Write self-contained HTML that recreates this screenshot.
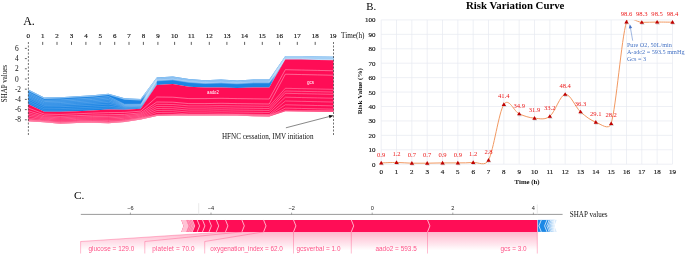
<!DOCTYPE html>
<html><head><meta charset="utf-8">
<style>
html,body{margin:0;padding:0;background:#fff;}
body{width:685px;height:255px;overflow:hidden;}
svg{display:block;}
text{font-family:"Liberation Serif",serif;}
text.s{font-family:"Liberation Sans",sans-serif;}
</style></head><body>
<svg width="685" height="255" viewBox="0 0 685 255">
<defs>
<filter id="sh" x="-50%" y="-50%" width="200%" height="200%"><feGaussianBlur stdDeviation="0.5"/></filter>
<linearGradient id="pg" x1="0" y1="231.9" x2="0" y2="250.5" gradientUnits="userSpaceOnUse">
<stop offset="0" stop-color="#FF0D57" stop-opacity="0.3"/>
<stop offset="1" stop-color="#FF0D57" stop-opacity="0"/>
</linearGradient>
<linearGradient id="bfade" x1="0" x2="1" y1="0" y2="0">
<stop offset="0" stop-color="#fff" stop-opacity="0"/>
<stop offset="1" stop-color="#fff" stop-opacity="0.85"/>
</linearGradient>
<filter id="gb" x="0" y="0" width="685" height="255" filterUnits="userSpaceOnUse"><feGaussianBlur stdDeviation="0.3"/></filter>
</defs>
<g filter="url(#gb)" fill="#111">
<rect x="0" y="0" width="685" height="255" fill="#fff"/>
<!-- Panel A -->
<text x="23.2" y="24.9" font-size="12" fill="#000">A.</text>
<text x="28.2" y="38.4" text-anchor="middle" font-size="7.0" stroke="#111" stroke-width="0.15">0</text>
<text x="42.7" y="38.4" text-anchor="middle" font-size="7.0" stroke="#111" stroke-width="0.15">1</text>
<line x1="42.7" y1="41.9" x2="42.7" y2="44.9" stroke="#1a1a1a" stroke-width="0.7"/>
<text x="57" y="38.4" text-anchor="middle" font-size="7.0" stroke="#111" stroke-width="0.15">2</text>
<line x1="57" y1="41.9" x2="57" y2="44.9" stroke="#1a1a1a" stroke-width="0.7"/>
<text x="71.5" y="38.4" text-anchor="middle" font-size="7.0" stroke="#111" stroke-width="0.15">3</text>
<line x1="71.5" y1="41.9" x2="71.5" y2="44.9" stroke="#1a1a1a" stroke-width="0.7"/>
<text x="85.9" y="38.4" text-anchor="middle" font-size="7.0" stroke="#111" stroke-width="0.15">4</text>
<line x1="85.9" y1="41.9" x2="85.9" y2="44.9" stroke="#1a1a1a" stroke-width="0.7"/>
<text x="100.2" y="38.4" text-anchor="middle" font-size="7.0" stroke="#111" stroke-width="0.15">5</text>
<line x1="100.2" y1="41.9" x2="100.2" y2="44.9" stroke="#1a1a1a" stroke-width="0.7"/>
<text x="114.7" y="38.4" text-anchor="middle" font-size="7.0" stroke="#111" stroke-width="0.15">6</text>
<line x1="114.7" y1="41.9" x2="114.7" y2="44.9" stroke="#1a1a1a" stroke-width="0.7"/>
<text x="129" y="38.4" text-anchor="middle" font-size="7.0" stroke="#111" stroke-width="0.15">7</text>
<line x1="129" y1="41.9" x2="129" y2="44.9" stroke="#1a1a1a" stroke-width="0.7"/>
<text x="143.4" y="38.4" text-anchor="middle" font-size="7.0" stroke="#111" stroke-width="0.15">8</text>
<line x1="143.4" y1="41.9" x2="143.4" y2="44.9" stroke="#1a1a1a" stroke-width="0.7"/>
<text x="157.9" y="38.4" text-anchor="middle" font-size="7.0" stroke="#111" stroke-width="0.15">9</text>
<line x1="157.9" y1="41.9" x2="157.9" y2="44.9" stroke="#1a1a1a" stroke-width="0.7"/>
<text x="174.6" y="38.4" text-anchor="middle" font-size="7.0" stroke="#111" stroke-width="0.15">10</text>
<line x1="174.6" y1="41.9" x2="174.6" y2="44.9" stroke="#1a1a1a" stroke-width="0.7"/>
<text x="191.3" y="38.4" text-anchor="middle" font-size="7.0" stroke="#111" stroke-width="0.15">11</text>
<line x1="191.3" y1="41.9" x2="191.3" y2="44.9" stroke="#1a1a1a" stroke-width="0.7"/>
<text x="209.3" y="38.4" text-anchor="middle" font-size="7.0" stroke="#111" stroke-width="0.15">12</text>
<line x1="209.3" y1="41.9" x2="209.3" y2="44.9" stroke="#1a1a1a" stroke-width="0.7"/>
<text x="226.9" y="38.4" text-anchor="middle" font-size="7.0" stroke="#111" stroke-width="0.15">13</text>
<line x1="226.9" y1="41.9" x2="226.9" y2="44.9" stroke="#1a1a1a" stroke-width="0.7"/>
<text x="244.6" y="38.4" text-anchor="middle" font-size="7.0" stroke="#111" stroke-width="0.15">14</text>
<line x1="244.6" y1="41.9" x2="244.6" y2="44.9" stroke="#1a1a1a" stroke-width="0.7"/>
<text x="262.3" y="38.4" text-anchor="middle" font-size="7.0" stroke="#111" stroke-width="0.15">15</text>
<line x1="262.3" y1="41.9" x2="262.3" y2="44.9" stroke="#1a1a1a" stroke-width="0.7"/>
<text x="279.6" y="38.4" text-anchor="middle" font-size="7.0" stroke="#111" stroke-width="0.15">16</text>
<line x1="279.6" y1="41.9" x2="279.6" y2="44.9" stroke="#1a1a1a" stroke-width="0.7"/>
<text x="297.3" y="38.4" text-anchor="middle" font-size="7.0" stroke="#111" stroke-width="0.15">17</text>
<line x1="297.3" y1="41.9" x2="297.3" y2="44.9" stroke="#1a1a1a" stroke-width="0.7"/>
<text x="315.2" y="38.4" text-anchor="middle" font-size="7.0" stroke="#111" stroke-width="0.15">18</text>
<line x1="315.2" y1="41.9" x2="315.2" y2="44.9" stroke="#1a1a1a" stroke-width="0.7"/>
<text x="333.1" y="38.4" text-anchor="middle" font-size="7.0" stroke="#111" stroke-width="0.15">19</text>
<text x="341.1" y="38.3" font-size="7.2">Time(h)</text>
<text x="14.9" y="50.9" font-size="7.4">6</text>
<line x1="24.9" y1="48.4" x2="26.8" y2="48.4" stroke="#222" stroke-width="0.7"/>
<text x="14.9" y="61.1" font-size="7.4">4</text>
<line x1="24.9" y1="58.6" x2="26.8" y2="58.6" stroke="#222" stroke-width="0.7"/>
<text x="14.9" y="71.3" font-size="7.4">2</text>
<line x1="24.9" y1="68.8" x2="26.8" y2="68.8" stroke="#222" stroke-width="0.7"/>
<text x="14.9" y="81.5" font-size="7.4">0</text>
<line x1="24.9" y1="79" x2="26.8" y2="79" stroke="#222" stroke-width="0.7"/>
<text x="14.9" y="91.7" font-size="7.4">-2</text>
<line x1="24.9" y1="89.2" x2="26.8" y2="89.2" stroke="#222" stroke-width="0.7"/>
<text x="14.9" y="101.9" font-size="7.4">-4</text>
<line x1="24.9" y1="99.4" x2="26.8" y2="99.4" stroke="#222" stroke-width="0.7"/>
<text x="14.9" y="112.1" font-size="7.4">-6</text>
<line x1="24.9" y1="109.6" x2="26.8" y2="109.6" stroke="#222" stroke-width="0.7"/>
<text x="14.9" y="122.3" font-size="7.4">-8</text>
<line x1="24.9" y1="119.8" x2="26.8" y2="119.8" stroke="#222" stroke-width="0.7"/>
<text transform="translate(6.8,83.6) rotate(-90)" x="-18.6" font-size="7.8" textLength="37.2" lengthAdjust="spacingAndGlyphs">SHAP values</text>
<polygon points="28.2,89.6 44.27,97.6 60.34,97.2 76.41,96.2 92.48,95.3 108.55,93.7 124.62,98.3 140.69,99 156.76,77.6 172.83,76.6 188.9,79 204.97,80.3 221.04,79.6 237.11,80.5 253.18,79.4 269.25,79.4 285.32,56 301.39,56 317.46,56.6 333.53,56.8 333.53,60.3 317.46,60.1 301.39,59.5 285.32,59.5 269.25,87.6 253.18,87.6 237.11,88 221.04,87.4 204.97,87.4 188.9,86.8 172.83,83.9 156.76,85 140.69,108.8 124.62,109.7 108.55,109.6 92.48,110.4 76.41,111.2 60.34,111.8 44.27,111.8 28.2,104.2" fill="#1B84E3"/>
<polygon points="28.2,89.6 44.27,97.6 60.34,97.2 76.41,96.2 92.48,95.3 108.55,93.7 124.62,98.3 140.69,99 156.76,77.6 172.83,76.6 188.9,79 204.97,80.3 221.04,79.6 237.11,80.5 253.18,79.4 269.25,79.4 285.32,56 301.39,56 317.46,56.6 333.53,56.8 333.53,59.6 317.46,59.4 301.39,58.8 285.32,58.8 269.25,81.1 253.18,81.1 237.11,82.2 221.04,81.3 204.97,82 188.9,80.7 172.83,78.3 156.76,79.3 140.69,100.4 124.62,99.7 108.55,95.1 92.48,96.7 76.41,97.6 60.34,98.6 44.27,99 28.2,91" fill="#a5cff5" opacity="0.8"/>
<polygon points="285.32,56 301.39,56 317.46,56.6 333.53,56.8 333.53,59.77 317.46,59.58 301.39,58.98 285.32,58.98" fill="#b8daf8" opacity="0.55"/>
<linearGradient id="dg1" gradientUnits="userSpaceOnUse" x1="141.69" y1="0" x2="146.69" y2="0"><stop offset="0" stop-color="#b9dbf7" stop-opacity="0"/><stop offset="1" stop-color="#b9dbf7" stop-opacity="0.75"/></linearGradient>
<polygon points="140.69,99 156.76,77.6 156.76,85 140.69,108.8" fill="url(#dg1)"/>
<linearGradient id="dg2" gradientUnits="userSpaceOnUse" x1="270.25" y1="0" x2="275.25" y2="0"><stop offset="0" stop-color="#b9dbf7" stop-opacity="0"/><stop offset="1" stop-color="#b9dbf7" stop-opacity="0.75"/></linearGradient>
<polygon points="269.25,79.4 285.32,56 285.32,59.5 269.25,87.6" fill="url(#dg2)"/>
<polyline points="28.2,92.32 44.27,100.28 60.34,99.92 76.41,98.96 92.48,98.07 108.55,96.55 124.62,104.3 140.69,104.26 156.76,79.5 172.83,78.5 188.9,80.91 204.97,82.19 221.04,81.51 237.11,82.4 253.18,81.33 269.25,81.33 285.32,58.87 301.39,58.87 317.46,59.47 333.53,59.67" fill="none" stroke="#D1E6FA" stroke-width="0.45" opacity="0.75"/>
<polyline points="28.2,93.64 44.27,101.56 60.34,101.24 76.41,100.32 92.48,99.44 108.55,98 124.62,104.9 140.69,104.77 156.76,79.7 172.83,78.69 188.9,81.13 204.97,82.38 221.04,81.73 237.11,82.61 253.18,81.56 269.25,81.56 285.32,58.94 301.39,58.94 317.46,59.54 333.53,59.74" fill="none" stroke="#D1E6FA" stroke-width="0.45" opacity="0.7"/>
<polyline points="28.2,94.96 44.27,102.84 60.34,102.56 76.41,101.68 92.48,100.81 108.55,99.45 124.62,105.5 140.69,105.27 156.76,79.9 172.83,78.89 188.9,81.34 204.97,82.57 221.04,81.94 237.11,82.81 253.18,81.78 269.25,81.78 285.32,59.01 301.39,59.01 317.46,59.61 333.53,59.81" fill="none" stroke="#D1E6FA" stroke-width="0.45" opacity="0.65"/>
<polyline points="28.2,96.28 44.27,104.12 60.34,103.88 76.41,103.04 92.48,102.18 108.55,100.9 124.62,106.1 140.69,105.78 156.76,80.1 172.83,79.08 188.9,81.55 204.97,82.76 221.04,82.15 237.11,83.01 253.18,82.01 269.25,82.01 285.32,59.08 301.39,59.08 317.46,59.68 333.53,59.88" fill="none" stroke="#D1E6FA" stroke-width="0.45" opacity="0.6"/>
<polyline points="28.2,97.6 44.27,105.4 60.34,105.2 76.41,104.4 92.48,103.55 108.55,102.35 124.62,106.7 140.69,106.28 156.76,80.3 172.83,79.28 188.9,81.77 204.97,82.95 221.04,82.37 237.11,83.22 253.18,82.24 269.25,82.24 285.32,59.15 301.39,59.15 317.46,59.75 333.53,59.95" fill="none" stroke="#D1E6FA" stroke-width="0.45" opacity="0.55"/>
<polyline points="28.2,99.18 44.27,106.94 60.34,106.78 76.41,106.03 92.48,105.19 108.55,104.09 124.62,107.42 140.69,106.88 156.76,80.54 172.83,79.52 188.9,82.02 204.97,83.17 221.04,82.62 237.11,83.46 253.18,82.51 269.25,82.51 285.32,59.23 301.39,59.23 317.46,59.83 333.53,60.03" fill="none" stroke="#D1E6FA" stroke-width="0.45" opacity="0.5"/>
<polyline points="28.2,101.03 44.27,108.73 60.34,108.63 76.41,107.94 92.48,107.11 108.55,106.12 124.62,108.26 140.69,107.59 156.76,80.82 172.83,79.79 188.9,82.32 204.97,83.44 221.04,82.92 237.11,83.74 253.18,82.83 269.25,82.83 285.32,59.33 301.39,59.33 317.46,59.93 333.53,60.13" fill="none" stroke="#D1E6FA" stroke-width="0.45" opacity="0.45"/>
<polyline points="28.2,102.62 44.27,110.26 60.34,110.22 76.41,109.57 92.48,108.76 108.55,107.86 124.62,108.98 140.69,108.2 156.76,81.06 172.83,80.02 188.9,82.58 204.97,83.66 221.04,83.18 237.11,83.99 253.18,83.1 269.25,83.1 285.32,59.42 301.39,59.42 317.46,60.02 333.53,60.22" fill="none" stroke="#D1E6FA" stroke-width="0.45" opacity="0.35"/>
<polygon points="28.2,104.2 44.27,111.8 60.34,111.8 76.41,111.2 92.48,110.4 108.55,109.6 124.62,109.7 140.69,108.8 156.76,85 172.83,83.9 188.9,86.8 204.97,87.4 221.04,87.4 237.11,88 253.18,87.6 269.25,87.6 285.32,59.5 301.39,59.5 317.46,60.1 333.53,60.3 333.53,111.9 317.46,111.7 301.39,111.5 285.32,111.3 269.25,116.4 253.18,116.2 237.11,115.5 221.04,115.6 204.97,115.6 188.9,115.6 172.83,115.6 156.76,115.9 140.69,119.4 124.62,122 108.55,123.3 92.48,122.7 76.41,123 60.34,123.8 44.27,122.3 28.2,121.2" fill="#FF0D57"/>
<polyline points="28.2,107.94 44.27,114.11 60.34,114.44 76.41,113.8 92.48,113.11 108.55,112.61 124.62,112.41 140.69,111.13 156.76,97 172.83,97.2 188.9,98.6 204.97,98.6 221.04,98.3 237.11,98.6 253.18,98.8 269.25,99 285.32,69.7 301.39,70.05 317.46,70.4 333.53,70.75" fill="none" stroke="#FFC3D5" stroke-width="0.5" opacity="0.95"/>
<polyline points="28.2,110.66 44.27,115.79 60.34,116.36 76.41,115.68 92.48,115.07 108.55,114.81 124.62,114.37 140.69,112.83 156.76,102 172.83,102.2 188.9,103.6 204.97,103.6 221.04,103.3 237.11,103.6 253.18,103.8 269.25,104 285.32,74.2 301.39,74.55 317.46,74.9 333.53,75.25" fill="none" stroke="#FFC3D5" stroke-width="0.5" opacity="0.95"/>
<polyline points="28.2,112.7 44.27,117.05 60.34,117.8 76.41,117.1 92.48,116.55 108.55,116.45 124.62,115.85 140.69,114.1 156.76,104.3 172.83,104.5 188.9,105.9 204.97,105.9 221.04,105.6 237.11,105.9 253.18,106.1 269.25,106.3 285.32,88.3 301.39,88.65 317.46,89 333.53,89.35" fill="none" stroke="#FFC3D5" stroke-width="0.5" opacity="0.8"/>
<polyline points="28.2,114.4 44.27,118.1 60.34,119 76.41,118.28 92.48,117.78 108.55,117.82 124.62,117.08 140.69,115.16 156.76,106.5 172.83,106.7 188.9,108.1 204.97,108.1 221.04,107.8 237.11,108.1 253.18,108.3 269.25,108.5 285.32,91 301.39,91.35 317.46,91.7 333.53,92.05" fill="none" stroke="#FFC3D5" stroke-width="0.5" opacity="0.8"/>
<polyline points="28.2,116.1 44.27,119.15 60.34,120.2 76.41,119.46 92.48,119.01 108.55,119.19 124.62,118.31 140.69,116.22 156.76,108.5 172.83,108.7 188.9,110.1 204.97,110.1 221.04,109.8 237.11,110.1 253.18,110.3 269.25,110.5 285.32,93.3 301.39,93.65 317.46,94 333.53,94.35" fill="none" stroke="#FFC3D5" stroke-width="0.5" opacity="0.8"/>
<polyline points="28.2,117.8 44.27,120.2 60.34,121.4 76.41,120.64 92.48,120.24 108.55,120.56 124.62,119.54 140.69,117.28 156.76,110.5 172.83,110.7 188.9,112.1 204.97,112.1 221.04,111.8 237.11,112.1 253.18,112.3 269.25,112.5 285.32,97.2 301.39,97.55 317.46,97.9 333.53,98.25" fill="none" stroke="#FFC3D5" stroke-width="0.5" opacity="0.8"/>
<polyline points="28.2,119.16 44.27,121.04 60.34,122.36 76.41,121.58 92.48,121.22 108.55,121.66 124.62,120.52 140.69,118.13 156.76,112.5 172.83,112.7 188.9,114.1 204.97,114.1 221.04,113.8 237.11,114.1 253.18,114.3 269.25,114.5 285.32,101 301.39,101.35 317.46,101.7 333.53,102.05" fill="none" stroke="#FFC3D5" stroke-width="0.5" opacity="0.8"/>
<polyline points="28.2,120.18 44.27,121.67 60.34,123.08 76.41,122.29 92.48,121.96 108.55,122.48 124.62,121.26 140.69,118.76 156.76,114.9 172.83,114.6 188.9,114.6 204.97,114.6 221.04,114.6 237.11,114.5 253.18,115.2 269.25,115.4 285.32,104.8 301.39,105.15 317.46,105.5 333.53,105.85" fill="none" stroke="#FFC3D5" stroke-width="0.5" opacity="0.8"/>
<polyline points="28.2,120.78 44.27,122.04 60.34,123.5 76.41,122.7 92.48,122.39 108.55,122.96 124.62,121.69 140.69,119.14 156.76,115.5 172.83,115.2 188.9,115.2 204.97,115.2 221.04,115.2 237.11,115.1 253.18,115.8 269.25,116 285.32,108.1 301.39,108.45 317.46,108.8 333.53,109.15" fill="none" stroke="#FFC3D5" stroke-width="0.5" opacity="0.8"/>
<polygon points="28.2,119.6 44.27,120.7 60.34,122.2 76.41,121.4 92.48,121.1 108.55,121.7 124.62,120.4 140.69,117.8 156.76,114.3 172.83,114 188.9,114 204.97,114 221.04,114 237.11,113.9 253.18,114.6 269.25,114.8 285.32,109.7 301.39,109.9 317.46,110.1 333.53,110.3 333.53,111.9 317.46,111.7 301.39,111.5 285.32,111.3 269.25,116.4 253.18,116.2 237.11,115.5 221.04,115.6 204.97,115.6 188.9,115.6 172.83,115.6 156.76,115.9 140.69,119.4 124.62,122 108.55,123.3 92.48,122.7 76.41,123 60.34,123.8 44.27,122.3 28.2,121.2" fill="#ff7fa3" opacity="0.6"/>
<line x1="28.4" y1="42" x2="28.4" y2="136.5" stroke="#444" stroke-width="0.75" stroke-dasharray="2,1.5"/>
<line x1="333.5" y1="42" x2="333.5" y2="136.5" stroke="#444" stroke-width="0.75" stroke-dasharray="2,1.5"/>
<text x="207.1" y="93.8" class="s" font-size="4.8" fill="#fff" textLength="11.7" lengthAdjust="spacingAndGlyphs">aado2</text>
<text x="307" y="84.2" class="s" font-size="4.6" fill="#fff">gcs</text>
<line x1="285.9" y1="127.8" x2="329.63" y2="116.43" stroke="#111" stroke-width="0.5"/>
<path d="M333.6,115.4 L329.58,118.2 L328.72,114.91 Z" fill="#111"/>
<text x="221.9" y="139.0" font-size="7.6" textLength="91.6" lengthAdjust="spacingAndGlyphs">HFNC cessation, IMV initiation</text>
<!-- Panel B -->
<text x="366.2" y="9.7" font-size="10.8" fill="#000">B.</text>
<text x="515.2" y="8.8" text-anchor="middle" font-size="10.8" font-weight="bold" fill="#000">Risk Variation Curve</text>
<line x1="381.2" y1="164.2" x2="672.47" y2="164.2" stroke="#e7eaf1" stroke-width="0.7"/>
<line x1="381.2" y1="149.77" x2="672.47" y2="149.77" stroke="#e7eaf1" stroke-width="0.7"/>
<line x1="381.2" y1="135.34" x2="672.47" y2="135.34" stroke="#e7eaf1" stroke-width="0.7"/>
<line x1="381.2" y1="120.91" x2="672.47" y2="120.91" stroke="#e7eaf1" stroke-width="0.7"/>
<line x1="381.2" y1="106.48" x2="672.47" y2="106.48" stroke="#e7eaf1" stroke-width="0.7"/>
<line x1="381.2" y1="92.05" x2="672.47" y2="92.05" stroke="#e7eaf1" stroke-width="0.7"/>
<line x1="381.2" y1="77.62" x2="672.47" y2="77.62" stroke="#e7eaf1" stroke-width="0.7"/>
<line x1="381.2" y1="63.19" x2="672.47" y2="63.19" stroke="#e7eaf1" stroke-width="0.7"/>
<line x1="381.2" y1="48.76" x2="672.47" y2="48.76" stroke="#e7eaf1" stroke-width="0.7"/>
<line x1="381.2" y1="34.33" x2="672.47" y2="34.33" stroke="#e7eaf1" stroke-width="0.7"/>
<line x1="381.2" y1="19.9" x2="672.47" y2="19.9" stroke="#e7eaf1" stroke-width="0.7"/>
<line x1="381.2" y1="19.9" x2="381.2" y2="164.2" stroke="#e7eaf1" stroke-width="0.7"/>
<line x1="396.53" y1="19.9" x2="396.53" y2="164.2" stroke="#e7eaf1" stroke-width="0.7"/>
<line x1="411.86" y1="19.9" x2="411.86" y2="164.2" stroke="#e7eaf1" stroke-width="0.7"/>
<line x1="427.19" y1="19.9" x2="427.19" y2="164.2" stroke="#e7eaf1" stroke-width="0.7"/>
<line x1="442.52" y1="19.9" x2="442.52" y2="164.2" stroke="#e7eaf1" stroke-width="0.7"/>
<line x1="457.85" y1="19.9" x2="457.85" y2="164.2" stroke="#e7eaf1" stroke-width="0.7"/>
<line x1="473.18" y1="19.9" x2="473.18" y2="164.2" stroke="#e7eaf1" stroke-width="0.7"/>
<line x1="488.51" y1="19.9" x2="488.51" y2="164.2" stroke="#e7eaf1" stroke-width="0.7"/>
<line x1="503.84" y1="19.9" x2="503.84" y2="164.2" stroke="#e7eaf1" stroke-width="0.7"/>
<line x1="519.17" y1="19.9" x2="519.17" y2="164.2" stroke="#e7eaf1" stroke-width="0.7"/>
<line x1="534.5" y1="19.9" x2="534.5" y2="164.2" stroke="#e7eaf1" stroke-width="0.7"/>
<line x1="549.83" y1="19.9" x2="549.83" y2="164.2" stroke="#e7eaf1" stroke-width="0.7"/>
<line x1="565.16" y1="19.9" x2="565.16" y2="164.2" stroke="#e7eaf1" stroke-width="0.7"/>
<line x1="580.49" y1="19.9" x2="580.49" y2="164.2" stroke="#e7eaf1" stroke-width="0.7"/>
<line x1="595.82" y1="19.9" x2="595.82" y2="164.2" stroke="#e7eaf1" stroke-width="0.7"/>
<line x1="611.15" y1="19.9" x2="611.15" y2="164.2" stroke="#e7eaf1" stroke-width="0.7"/>
<line x1="626.48" y1="19.9" x2="626.48" y2="164.2" stroke="#e7eaf1" stroke-width="0.7"/>
<line x1="641.81" y1="19.9" x2="641.81" y2="164.2" stroke="#e7eaf1" stroke-width="0.7"/>
<line x1="657.14" y1="19.9" x2="657.14" y2="164.2" stroke="#e7eaf1" stroke-width="0.7"/>
<line x1="672.47" y1="19.9" x2="672.47" y2="164.2" stroke="#e7eaf1" stroke-width="0.7"/>
<text x="375.6" y="166.7" text-anchor="end" font-size="7.0" stroke="#111" stroke-width="0.15">0</text>
<text x="375.6" y="152.27" text-anchor="end" font-size="7.0" stroke="#111" stroke-width="0.15">10</text>
<text x="375.6" y="137.84" text-anchor="end" font-size="7.0" stroke="#111" stroke-width="0.15">20</text>
<text x="375.6" y="123.41" text-anchor="end" font-size="7.0" stroke="#111" stroke-width="0.15">30</text>
<text x="375.6" y="108.98" text-anchor="end" font-size="7.0" stroke="#111" stroke-width="0.15">40</text>
<text x="375.6" y="94.55" text-anchor="end" font-size="7.0" stroke="#111" stroke-width="0.15">50</text>
<text x="375.6" y="80.12" text-anchor="end" font-size="7.0" stroke="#111" stroke-width="0.15">60</text>
<text x="375.6" y="65.69" text-anchor="end" font-size="7.0" stroke="#111" stroke-width="0.15">70</text>
<text x="375.6" y="51.26" text-anchor="end" font-size="7.0" stroke="#111" stroke-width="0.15">80</text>
<text x="375.6" y="36.83" text-anchor="end" font-size="7.0" stroke="#111" stroke-width="0.15">90</text>
<text x="375.6" y="22.4" text-anchor="end" font-size="7.0" stroke="#111" stroke-width="0.15">100</text>
<text x="381.2" y="174.2" text-anchor="middle" font-size="7.0" stroke="#111" stroke-width="0.15">0</text>
<text x="396.53" y="174.2" text-anchor="middle" font-size="7.0" stroke="#111" stroke-width="0.15">1</text>
<text x="411.86" y="174.2" text-anchor="middle" font-size="7.0" stroke="#111" stroke-width="0.15">2</text>
<text x="427.19" y="174.2" text-anchor="middle" font-size="7.0" stroke="#111" stroke-width="0.15">3</text>
<text x="442.52" y="174.2" text-anchor="middle" font-size="7.0" stroke="#111" stroke-width="0.15">4</text>
<text x="457.85" y="174.2" text-anchor="middle" font-size="7.0" stroke="#111" stroke-width="0.15">5</text>
<text x="473.18" y="174.2" text-anchor="middle" font-size="7.0" stroke="#111" stroke-width="0.15">6</text>
<text x="488.51" y="174.2" text-anchor="middle" font-size="7.0" stroke="#111" stroke-width="0.15">7</text>
<text x="503.84" y="174.2" text-anchor="middle" font-size="7.0" stroke="#111" stroke-width="0.15">8</text>
<text x="519.17" y="174.2" text-anchor="middle" font-size="7.0" stroke="#111" stroke-width="0.15">9</text>
<text x="534.5" y="174.2" text-anchor="middle" font-size="7.0" stroke="#111" stroke-width="0.15">10</text>
<text x="549.83" y="174.2" text-anchor="middle" font-size="7.0" stroke="#111" stroke-width="0.15">11</text>
<text x="565.16" y="174.2" text-anchor="middle" font-size="7.0" stroke="#111" stroke-width="0.15">12</text>
<text x="580.49" y="174.2" text-anchor="middle" font-size="7.0" stroke="#111" stroke-width="0.15">13</text>
<text x="595.82" y="174.2" text-anchor="middle" font-size="7.0" stroke="#111" stroke-width="0.15">14</text>
<text x="611.15" y="174.2" text-anchor="middle" font-size="7.0" stroke="#111" stroke-width="0.15">15</text>
<text x="626.48" y="174.2" text-anchor="middle" font-size="7.0" stroke="#111" stroke-width="0.15">16</text>
<text x="641.81" y="174.2" text-anchor="middle" font-size="7.0" stroke="#111" stroke-width="0.15">17</text>
<text x="657.14" y="174.2" text-anchor="middle" font-size="7.0" stroke="#111" stroke-width="0.15">18</text>
<text x="672.47" y="174.2" text-anchor="middle" font-size="7.0" stroke="#111" stroke-width="0.15">19</text>
<clipPath id="pc"><rect x="375" y="20.2" width="305" height="150"/></clipPath>
<path d="M381.2,162.9 C383.75,162.83 391.42,162.42 396.53,162.47 C401.64,162.52 406.75,163.07 411.86,163.19 C416.97,163.31 422.08,163.24 427.19,163.19 C432.3,163.14 437.41,162.95 442.52,162.9 C447.63,162.85 452.74,162.97 457.85,162.9 C462.96,162.83 468.07,162.93 473.18,162.47 C478.29,162.01 484.89,167.01 488.51,160.16 C493.62,150.49 498.73,112.18 503.84,104.46 C508.8,96.97 514.06,111.55 519.17,113.84 C524.28,116.12 529.39,117.76 534.5,118.17 C539.61,118.58 544.72,120.26 549.83,116.29 C554.94,112.32 560.05,95.1 565.16,94.36 C570.27,93.61 575.38,107.18 580.49,111.82 C585.6,116.46 590.71,120.26 595.82,122.21 C600.93,124.16 608.9,130.86 611.15,123.51 C616.26,106.79 621.37,38.78 626.48,21.92 C628.7,14.58 636.7,22.33 641.81,22.35 C646.92,22.38 652.03,22.09 657.14,22.06 C662.25,22.04 669.91,22.18 672.47,22.21" fill="none" stroke="#F0945A" stroke-width="0.95" clip-path="url(#pc)"/>
<path d="M381.9,161.7 l2.15,3.6 h-4.3 z" fill="#888" opacity="0.35" filter="url(#sh)"/>
<path d="M381.2,160.8 l2.15,3.6 h-4.3 z" fill="#C00000"/>
<text x="381.2" y="156.6" text-anchor="middle" font-size="6.6" fill="#ec1c1c">0.9</text>
<path d="M397.23,161.27 l2.15,3.6 h-4.3 z" fill="#888" opacity="0.35" filter="url(#sh)"/>
<path d="M396.53,160.37 l2.15,3.6 h-4.3 z" fill="#C00000"/>
<text x="396.53" y="156.17" text-anchor="middle" font-size="6.6" fill="#ec1c1c">1.2</text>
<path d="M412.56,161.99 l2.15,3.6 h-4.3 z" fill="#888" opacity="0.35" filter="url(#sh)"/>
<path d="M411.86,161.09 l2.15,3.6 h-4.3 z" fill="#C00000"/>
<text x="411.86" y="156.89" text-anchor="middle" font-size="6.6" fill="#ec1c1c">0.7</text>
<path d="M427.89,161.99 l2.15,3.6 h-4.3 z" fill="#888" opacity="0.35" filter="url(#sh)"/>
<path d="M427.19,161.09 l2.15,3.6 h-4.3 z" fill="#C00000"/>
<text x="427.19" y="156.89" text-anchor="middle" font-size="6.6" fill="#ec1c1c">0.7</text>
<path d="M443.22,161.7 l2.15,3.6 h-4.3 z" fill="#888" opacity="0.35" filter="url(#sh)"/>
<path d="M442.52,160.8 l2.15,3.6 h-4.3 z" fill="#C00000"/>
<text x="442.52" y="156.6" text-anchor="middle" font-size="6.6" fill="#ec1c1c">0.9</text>
<path d="M458.55,161.7 l2.15,3.6 h-4.3 z" fill="#888" opacity="0.35" filter="url(#sh)"/>
<path d="M457.85,160.8 l2.15,3.6 h-4.3 z" fill="#C00000"/>
<text x="457.85" y="156.6" text-anchor="middle" font-size="6.6" fill="#ec1c1c">0.9</text>
<path d="M473.88,161.27 l2.15,3.6 h-4.3 z" fill="#888" opacity="0.35" filter="url(#sh)"/>
<path d="M473.18,160.37 l2.15,3.6 h-4.3 z" fill="#C00000"/>
<text x="473.18" y="156.17" text-anchor="middle" font-size="6.6" fill="#ec1c1c">1.2</text>
<path d="M489.21,158.96 l2.15,3.6 h-4.3 z" fill="#888" opacity="0.35" filter="url(#sh)"/>
<path d="M488.51,158.06 l2.15,3.6 h-4.3 z" fill="#C00000"/>
<text x="488.51" y="153.86" text-anchor="middle" font-size="6.6" fill="#ec1c1c">2.8</text>
<path d="M504.54,103.26 l2.15,3.6 h-4.3 z" fill="#888" opacity="0.35" filter="url(#sh)"/>
<path d="M503.84,102.36 l2.15,3.6 h-4.3 z" fill="#C00000"/>
<text x="503.84" y="98.16" text-anchor="middle" font-size="6.6" fill="#ec1c1c">41.4</text>
<path d="M519.87,112.64 l2.15,3.6 h-4.3 z" fill="#888" opacity="0.35" filter="url(#sh)"/>
<path d="M519.17,111.74 l2.15,3.6 h-4.3 z" fill="#C00000"/>
<text x="519.17" y="107.54" text-anchor="middle" font-size="6.6" fill="#ec1c1c">34.9</text>
<path d="M535.2,116.97 l2.15,3.6 h-4.3 z" fill="#888" opacity="0.35" filter="url(#sh)"/>
<path d="M534.5,116.07 l2.15,3.6 h-4.3 z" fill="#C00000"/>
<text x="534.5" y="111.87" text-anchor="middle" font-size="6.6" fill="#ec1c1c">31.9</text>
<path d="M550.53,115.09 l2.15,3.6 h-4.3 z" fill="#888" opacity="0.35" filter="url(#sh)"/>
<path d="M549.83,114.19 l2.15,3.6 h-4.3 z" fill="#C00000"/>
<text x="549.83" y="109.99" text-anchor="middle" font-size="6.6" fill="#ec1c1c">33.2</text>
<path d="M565.86,93.16 l2.15,3.6 h-4.3 z" fill="#888" opacity="0.35" filter="url(#sh)"/>
<path d="M565.16,92.26 l2.15,3.6 h-4.3 z" fill="#C00000"/>
<text x="565.16" y="88.06" text-anchor="middle" font-size="6.6" fill="#ec1c1c">48.4</text>
<path d="M581.19,110.62 l2.15,3.6 h-4.3 z" fill="#888" opacity="0.35" filter="url(#sh)"/>
<path d="M580.49,109.72 l2.15,3.6 h-4.3 z" fill="#C00000"/>
<text x="580.49" y="105.52" text-anchor="middle" font-size="6.6" fill="#ec1c1c">36.3</text>
<path d="M596.52,121.01 l2.15,3.6 h-4.3 z" fill="#888" opacity="0.35" filter="url(#sh)"/>
<path d="M595.82,120.11 l2.15,3.6 h-4.3 z" fill="#C00000"/>
<text x="595.82" y="115.91" text-anchor="middle" font-size="6.6" fill="#ec1c1c">29.1</text>
<path d="M611.85,122.31 l2.15,3.6 h-4.3 z" fill="#888" opacity="0.35" filter="url(#sh)"/>
<path d="M611.15,121.41 l2.15,3.6 h-4.3 z" fill="#C00000"/>
<text x="611.15" y="117.21" text-anchor="middle" font-size="6.6" fill="#ec1c1c">28.2</text>
<path d="M627.18,20.72 l2.15,3.6 h-4.3 z" fill="#888" opacity="0.35" filter="url(#sh)"/>
<path d="M626.48,19.82 l2.15,3.6 h-4.3 z" fill="#C00000"/>
<text x="626.48" y="15.62" text-anchor="middle" font-size="6.6" fill="#ec1c1c">98.6</text>
<path d="M642.51,21.15 l2.15,3.6 h-4.3 z" fill="#888" opacity="0.35" filter="url(#sh)"/>
<path d="M641.81,20.25 l2.15,3.6 h-4.3 z" fill="#C00000"/>
<text x="641.81" y="16.05" text-anchor="middle" font-size="6.6" fill="#ec1c1c">98.3</text>
<path d="M657.84,20.86 l2.15,3.6 h-4.3 z" fill="#888" opacity="0.35" filter="url(#sh)"/>
<path d="M657.14,19.96 l2.15,3.6 h-4.3 z" fill="#C00000"/>
<text x="657.14" y="15.76" text-anchor="middle" font-size="6.6" fill="#ec1c1c">98.5</text>
<path d="M673.17,21.01 l2.15,3.6 h-4.3 z" fill="#888" opacity="0.35" filter="url(#sh)"/>
<path d="M672.47,20.11 l2.15,3.6 h-4.3 z" fill="#C00000"/>
<text x="672.47" y="15.91" text-anchor="middle" font-size="6.6" fill="#ec1c1c">98.4</text>
<text transform="translate(362.2,91.2) rotate(-90)" text-anchor="middle" font-size="7.1" font-weight="bold">Risk Value (%)</text>
<text x="527.1" y="184.2" text-anchor="middle" font-size="6.8" font-weight="bold">Time (h)</text>
<line x1="632.7" y1="40.7" x2="630.41" y2="27.75" stroke="#4472C4" stroke-width="0.5"/>
<path d="M629.8,24.3 L632.17,27.94 L628.82,28.53 Z" fill="#4472C4"/>
<text x="626.9" y="46.8" font-size="6.6" fill="#4472C4" textLength="45" lengthAdjust="spacingAndGlyphs">Pure O2, 50L/min</text>
<text x="626.9" y="53.9" font-size="6.6" fill="#4472C4" textLength="57.6" lengthAdjust="spacingAndGlyphs">A-adc2 = 593.5 mmHg</text>
<text x="626.9" y="61.0" font-size="6.6" fill="#4472C4" textLength="19.2" lengthAdjust="spacingAndGlyphs">Gcs = 3</text>
<!-- Panel C -->
<text x="74" y="199.1" font-size="11.3" fill="#000">C.</text>
<polygon points="537.3,231.9 225.5,231.9 80.6,241.5 80.6,256 537.3,256" fill="url(#pg)"/>
<path d="M181.3,219.9 L537.3,219.9 L537.3,231.9 L181.3,231.9 L183.46,225.9 Z" fill="#FF0D57"/>
<path d="M181.3,219.9 L186.3,219.9 L188.7,225.9 L186.3,231.9 L181.3,231.9 L183.46,225.9 Z" fill="#FFC3D5"/>
<path d="M186.3,219.9 L192.3,219.9 L194.7,225.9 L192.3,231.9 L186.3,231.9 L188.7,225.9 Z" fill="#ff6a98"/>
<polyline points="186.3,219.9 188.7,225.9 186.3,231.9" fill="none" stroke="#FFC3D5" stroke-width="0.55"/>
<polyline points="187.8,219.9 190.2,225.9 187.8,231.9" fill="none" stroke="#FFC3D5" stroke-width="0.55"/>
<polyline points="189.3,219.9 191.7,225.9 189.3,231.9" fill="none" stroke="#FFC3D5" stroke-width="0.55"/>
<polyline points="190.8,219.9 193.2,225.9 190.8,231.9" fill="none" stroke="#FFC3D5" stroke-width="0.55"/>
<polyline points="192.3,219.9 194.7,225.9 192.3,231.9" fill="none" stroke="#FFC3D5" stroke-width="0.9"/>
<polyline points="197.2,219.9 199.6,225.9 197.2,231.9" fill="none" stroke="#FFC3D5" stroke-width="0.9"/>
<polyline points="202.5,219.9 204.9,225.9 202.5,231.9" fill="none" stroke="#FFC3D5" stroke-width="0.9"/>
<polyline points="209,219.9 211.4,225.9 209,231.9" fill="none" stroke="#FFC3D5" stroke-width="0.9"/>
<polyline points="216.3,219.9 218.7,225.9 216.3,231.9" fill="none" stroke="#FFC3D5" stroke-width="0.9"/>
<polyline points="225.5,219.9 227.9,225.9 225.5,231.9" fill="none" stroke="#FFC3D5" stroke-width="0.9"/>
<polyline points="241.9,219.9 244.3,225.9 241.9,231.9" fill="none" stroke="#FFC3D5" stroke-width="0.9"/>
<polyline points="263.6,219.9 266,225.9 263.6,231.9" fill="none" stroke="#FFC3D5" stroke-width="0.9"/>
<polyline points="293.5,219.9 295.9,225.9 293.5,231.9" fill="none" stroke="#FFC3D5" stroke-width="0.9"/>
<polyline points="351.3,219.9 353.7,225.9 351.3,231.9" fill="none" stroke="#FFC3D5" stroke-width="0.9"/>
<polyline points="427.5,219.9 429.9,225.9 427.5,231.9" fill="none" stroke="#FFC3D5" stroke-width="0.9"/>
<path d="M537.8,219.9 L554.7,219.9 L554.7,231.9 L537.8,231.9 Z" fill="#1E88E5"/>
<polyline points="541.3,219.9 538.9,225.9 541.3,231.9" fill="none" stroke="#D1E6FA" stroke-width="0.9"/>
<polyline points="547,219.9 544.6,225.9 547,231.9" fill="none" stroke="#D1E6FA" stroke-width="0.9"/>
<polyline points="549.2,219.9 546.8,225.9 549.2,231.9" fill="none" stroke="#D1E6FA" stroke-width="0.9"/>
<polyline points="550.7,219.9 548.3,225.9 550.7,231.9" fill="none" stroke="#D1E6FA" stroke-width="0.9"/>
<polyline points="552,219.9 549.6,225.9 552,231.9" fill="none" stroke="#D1E6FA" stroke-width="0.9"/>
<polyline points="553.2,219.9 550.8,225.9 553.2,231.9" fill="none" stroke="#D1E6FA" stroke-width="0.9"/>
<polyline points="554.3,219.9 551.9,225.9 554.3,231.9" fill="none" stroke="#D1E6FA" stroke-width="0.9"/>
<polyline points="555.3,219.9 552.9,225.9 555.3,231.9" fill="none" stroke="#D1E6FA" stroke-width="0.9"/>
<polyline points="556.2,219.9 553.8,225.9 556.2,231.9" fill="none" stroke="#D1E6FA" stroke-width="0.9"/>
<rect x="548" y="219.9" width="7" height="12" fill="url(#bfade)"/>
<line x1="80.8" y1="214.4" x2="562.6" y2="214.4" stroke="#555" stroke-width="0.6"/>
<line x1="130.4" y1="212.6" x2="130.4" y2="214.4" stroke="#555" stroke-width="0.5"/>
<text class="s" x="130.4" y="210.2" text-anchor="middle" font-size="5.6" fill="#222">−6</text>
<line x1="211" y1="212.6" x2="211" y2="214.4" stroke="#555" stroke-width="0.5"/>
<text class="s" x="211" y="210.2" text-anchor="middle" font-size="5.6" fill="#222">−4</text>
<line x1="291.6" y1="212.6" x2="291.6" y2="214.4" stroke="#555" stroke-width="0.5"/>
<text class="s" x="291.6" y="210.2" text-anchor="middle" font-size="5.6" fill="#222">−2</text>
<line x1="372.2" y1="212.6" x2="372.2" y2="214.4" stroke="#555" stroke-width="0.5"/>
<text class="s" x="372.2" y="210.2" text-anchor="middle" font-size="5.6" fill="#222">0</text>
<line x1="452.8" y1="212.6" x2="452.8" y2="214.4" stroke="#555" stroke-width="0.5"/>
<text class="s" x="452.8" y="210.2" text-anchor="middle" font-size="5.6" fill="#222">2</text>
<line x1="533.4" y1="212.6" x2="533.4" y2="214.4" stroke="#555" stroke-width="0.5"/>
<text class="s" x="533.4" y="210.2" text-anchor="middle" font-size="5.6" fill="#222">4</text>
<line x1="198.7" y1="203.2" x2="198.7" y2="214.2" stroke="#e8e8e8" stroke-width="0.9"/>
<line x1="537.3" y1="204.5" x2="537.3" y2="214.2" stroke="#e8e8e8" stroke-width="0.9"/>
<text x="569.8" y="216.5" font-size="7.6" textLength="37.8" lengthAdjust="spacingAndGlyphs">SHAP values</text>
<polyline points="537.3,231.9 537.3,253.5" stroke="#FF0D57" stroke-opacity="0.5" stroke-width="0.55" fill="none"/>
<polyline points="427.5,231.9 427.5,253.5" stroke="#FF0D57" stroke-opacity="0.5" stroke-width="0.55" fill="none"/>
<polyline points="351.3,231.9 351.3,253.5" stroke="#FF0D57" stroke-opacity="0.5" stroke-width="0.55" fill="none"/>
<polyline points="293.5,231.9 293.5,253.5" stroke="#FF0D57" stroke-opacity="0.5" stroke-width="0.55" fill="none"/>
<polyline points="263.6,231.9 204.7,241.5 204.7,253.5" stroke="#FF0D57" stroke-opacity="0.5" stroke-width="0.55" fill="none"/>
<polyline points="241.9,231.9 144.8,241.5 144.8,253.5" stroke="#FF0D57" stroke-opacity="0.5" stroke-width="0.55" fill="none"/>
<polyline points="225.5,231.9 80.6,241.5 80.6,253.5" stroke="#FF0D57" stroke-opacity="0.5" stroke-width="0.55" fill="none"/>
<text class="s" x="526.6" y="250.9" text-anchor="end" font-size="6.4" fill="#FF0D57" fill-opacity="0.72" letter-spacing="0.0">gcs = 3.0</text>
<text class="s" x="416.83" y="250.9" text-anchor="end" font-size="6.4" fill="#FF0D57" fill-opacity="0.72" letter-spacing="0.03">aado2 = 593.5</text>
<text class="s" x="340.54" y="250.9" text-anchor="end" font-size="6.4" fill="#FF0D57" fill-opacity="0.72" letter-spacing="0.04">gcsverbal = 1.0</text>
<text class="s" x="282.88" y="250.9" text-anchor="end" font-size="6.4" fill="#FF0D57" fill-opacity="0.72" letter-spacing="-0.02">oxygenation_index = 62.0</text>
<text class="s" x="194.74" y="250.9" text-anchor="end" font-size="6.4" fill="#FF0D57" fill-opacity="0.72" letter-spacing="0.14">platelet = 70.0</text>
<text class="s" x="134.34" y="250.9" text-anchor="end" font-size="6.4" fill="#FF0D57" fill-opacity="0.72" letter-spacing="0.04">glucose = 129.0</text>
</g>
</svg>
</body></html>
